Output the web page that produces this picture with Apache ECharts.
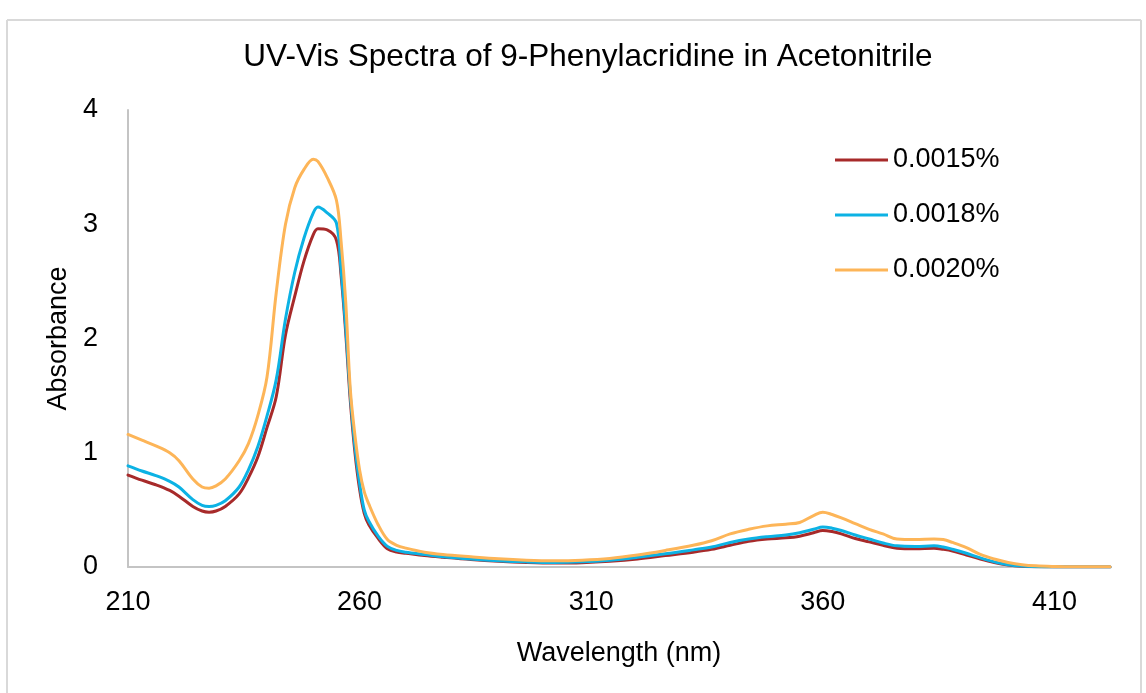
<!DOCTYPE html>
<html>
<head>
<meta charset="utf-8">
<script src="https://cdn.jsdelivr.net/npm/echarts@6/dist/echarts.min.js"></script>
<style>
html,body{margin:0;padding:0;background:#fff;}
#chart{width:1146px;height:693px;}
</style>
</head>
<body>
<div id="chart"></div>
<script>
const wavelengths = [210,213,216,219,221,224,226,227.5,229,231,234,236,238,240,242,244,246,248,250,251,253,255,256,257,258,259,260,261,262,264,266,268,270,274,278,284,290,296,302,308,314,320,326,332,336,340,344,348,352,355,358,360,362,364,367,370,373,376,380,384,386,388,391,394,397,400,403,406,410,414,418,422];

const conc0015 = [0.805,0.76,0.72,0.67,0.62,0.53,0.49,0.48,0.49,0.53,0.64,0.78,0.96,1.22,1.49,2.03,2.37,2.68,2.91,2.96,2.95,2.86,2.55,2.05,1.45,1.0,0.68,0.47,0.37,0.25,0.16,0.13,0.12,0.10,0.085,0.065,0.05,0.04,0.035,0.038,0.05,0.07,0.10,0.13,0.155,0.19,0.225,0.245,0.255,0.27,0.30,0.32,0.31,0.29,0.25,0.22,0.19,0.165,0.16,0.165,0.155,0.14,0.105,0.07,0.04,0.018,0.006,0.002,0.001,0.001,0.001,0.001];

const conc0018 = [0.885,0.84,0.80,0.75,0.70,0.59,0.54,0.53,0.54,0.58,0.70,0.85,1.05,1.32,1.64,2.17,2.58,2.88,3.10,3.15,3.10,3.01,2.6,2.1,1.5,1.05,0.73,0.50,0.40,0.27,0.18,0.145,0.13,0.11,0.09,0.07,0.055,0.045,0.04,0.045,0.06,0.085,0.115,0.15,0.175,0.215,0.245,0.265,0.28,0.30,0.33,0.35,0.34,0.32,0.28,0.245,0.21,0.185,0.18,0.185,0.175,0.155,0.12,0.08,0.045,0.02,0.008,0.003,0.001,0.001,0.001,0.001];

const conc0020 = [1.16,1.11,1.06,1.00,0.93,0.77,0.70,0.69,0.71,0.77,0.93,1.08,1.32,1.66,2.40,3.0,3.32,3.48,3.57,3.55,3.41,3.21,2.85,2.32,1.55,1.15,0.85,0.66,0.55,0.37,0.24,0.19,0.165,0.13,0.11,0.09,0.072,0.06,0.055,0.06,0.075,0.105,0.145,0.19,0.23,0.29,0.33,0.36,0.375,0.39,0.45,0.48,0.46,0.43,0.38,0.33,0.29,0.245,0.24,0.245,0.24,0.215,0.17,0.11,0.07,0.04,0.02,0.01,0.005,0.003,0.002,0.002];

const seriesNames = ['0.0015%','0.0018%','0.0020%'];
const seriesColors = ['#a72a2a','#0cb2e4','#fdb558'];
const seriesValues = [conc0015, conc0018, conc0020];

const xTickLabels = [210,260,310,360,410];
const yTickLabels = [0,1,2,3,4];

const FONT = "'Liberation Sans Narrow','Arial Narrow','Liberation Sans',sans-serif";

const chart = echarts.init(document.getElementById('chart'), null, {renderer:'canvas'});

const series = seriesNames.map((name, i) => ({
  name: name,
  type: 'line',
  data: wavelengths.map((w, j) => [w, seriesValues[i][j]]),
  showSymbol: false,
  smooth: 0.35,
  lineStyle: {width: 3, color: seriesColors[i], join: 'round', cap: 'round'},
  itemStyle: {color: seriesColors[i]},
  z: 2 + i
}));

chart.setOption({
  animation: false,
  backgroundColor: '#ffffff',
  title: {
    text: 'UV-Vis Spectra of 9-Phenylacridine in Acetonitrile',
    left: 583,
    top: 36,
    textAlign: 'center',
    textStyle: {fontFamily: FONT, fontSize: 31.5, fontWeight: 'normal', color: '#000'}
  },
  legend: {
    orient: 'vertical',
    left: 830,
    top: 141,
    icon: 'rect',
    itemWidth: 53,
    itemHeight: 3,
    itemGap: 27,
    data: seriesNames,
    textStyle: {fontFamily: FONT, fontSize: 27, color: '#000', lineHeight: 28, padding: [0,0,0,0]}
  },
  grid: {left: 128, right: 36, top: 110, bottom: 126, containLabel: false},
  xAxis: {
    type: 'value',
    min: 210,
    max: 422,
    interval: 50,
    name: 'Wavelength (nm)',
    nameLocation: 'middle',
    nameGap: 73,
    nameTextStyle: {fontFamily: FONT, fontSize: 27, color: '#000'},
    axisLine: {show: true, onZero: false, lineStyle: {color: '#c4c4c4', width: 2}},
    axisTick: {show: false},
    splitLine: {show: false},
    axisLabel: {
      fontFamily: FONT, fontSize: 27, color: '#000', margin: 22,
      formatter: v => xTickLabels.indexOf(v) >= 0 ? String(v) : ''
    }
  },
  yAxis: {
    type: 'value',
    min: 0,
    max: 4,
    interval: 1,
    name: 'Absorbance',
    nameLocation: 'middle',
    nameGap: 56,
    nameTextStyle: {fontFamily: FONT, fontSize: 27, color: '#000'},
    axisLine: {show: true, lineStyle: {color: '#c4c4c4', width: 2}},
    axisTick: {show: false},
    splitLine: {show: false},
    axisLabel: {
      fontFamily: FONT, fontSize: 27, color: '#000', margin: 30,
      formatter: v => yTickLabels.indexOf(v) >= 0 ? String(v) : ''
    }
  },
  graphic: [
    {type: 'line', shape: {x1: 7, y1: 20, x2: 1141, y2: 20}, style: {stroke: '#d9d9d9', lineWidth: 2}, silent: true},
    {type: 'line', shape: {x1: 7, y1: 20, x2: 7, y2: 693}, style: {stroke: '#d9d9d9', lineWidth: 2}, silent: true},
    {type: 'line', shape: {x1: 1141, y1: 20, x2: 1141, y2: 693}, style: {stroke: '#d9d9d9', lineWidth: 2}, silent: true}
  ],
  series: series
});
</script>
</body>
</html>
